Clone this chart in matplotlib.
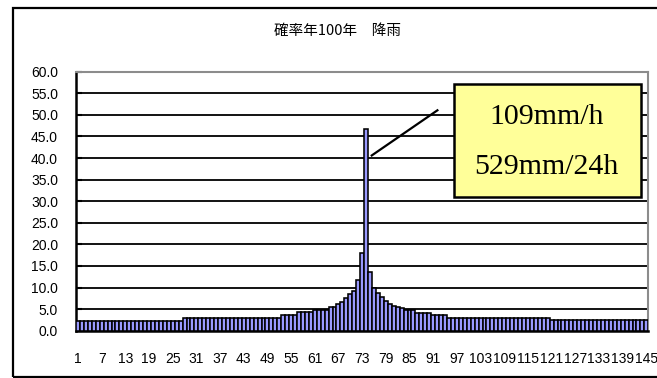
import matplotlib
matplotlib.use("Agg")
import matplotlib.pyplot as plt
from matplotlib.patches import Rectangle

# 10-minute rainfall (mm) for the 100-year design storm, 145 steps
periods = list(range(1, 146))
rain = (
    [2.3] * 27                      # 1-27
    + [3.0] * 25                    # 28-52
    + [3.7] * 4                     # 53-56
    + [4.3] * 4                     # 57-60
    + [4.9] * 4                     # 61-64
    + [5.5, 5.6, 6.1, 6.7, 7.6, 8.5, 9.3, 11.7, 17.9]   # 65-73
    + [46.7]                        # 74 (peak)
    + [13.7, 10.0, 8.8, 7.8, 6.8, 6.2, 5.8, 5.5, 5.2]   # 75-83
    + [4.8] * 3                     # 84-86
    + [4.2] * 4                     # 87-90
    + [3.6] * 4                     # 91-94
    + [3.0] * 26                    # 95-120
    + [2.4] * 25                    # 121-145
)
tick_positions = list(range(1, 146, 6))
tick_labels = [str(p) for p in tick_positions]
y_ticks = [i * 5 for i in range(13)]
y_labels = [f"{v:.1f}" for v in y_ticks]
title = "確率年100年　降雨"
note_lines = ["109mm/h", "529mm/24h"]

W, H = 657, 378
fig = plt.figure(figsize=(W / 100, H / 100), dpi=100)
fig.patch.set_facecolor("white")

# outer chart frame
fig.add_artist(Rectangle((13 / W, 1 - 377 / H), (W + 5 - 13) / W, (377 - 8) / H,
                         transform=fig.transFigure, fill=False,
                         edgecolor="black", linewidth=1.6, clip_on=False))

left, right, top, bottom = 76, 648.3, 71.7, 330.7
ax = fig.add_axes([left / W, 1 - bottom / H, (right - left) / W, (bottom - top) / H])

ax.bar(periods, rain, width=1.0, color="#9999FF", edgecolor="black",
       linewidth=1.15, zorder=3)

ax.set_xlim(0.5, 145.5)
ax.set_ylim(0, 60)
ax.set_yticks(y_ticks)
ax.set_yticklabels(y_labels, fontsize=10, family="Liberation Sans")
ax.set_xticks(tick_positions)
ax.set_xticklabels(tick_labels, fontsize=10, family="Liberation Sans")
ax.tick_params(axis="x", length=0, pad=15)
ax.tick_params(axis="y", direction="in", length=4, width=1.5, pad=13)

ax.grid(axis="y", color="black", linewidth=1.3, zorder=1)
ax.set_axisbelow(True)
for side in ("top", "right"):
    ax.spines[side].set_color("#8c8c8c")
    ax.spines[side].set_linewidth(1.5)
for side in ("left", "bottom"):
    ax.spines[side].set_color("black")
    ax.spines[side].set_linewidth(1.8)

# leader line from the peak to the note box
ax.plot([75.2, 92.3], [40.45, 51.2], color="black", linewidth=1.6,
        solid_capstyle="butt", zorder=5)

# note box
ax.add_patch(Rectangle((0.661, 0.517), 0.987 - 0.661, 0.951 - 0.517,
                       transform=ax.transAxes, facecolor="#FFFF99",
                       edgecolor="black", linewidth=1.8, zorder=6))
ax.text(0.822, 0.826, note_lines[0], transform=ax.transAxes, ha="center",
        va="center", fontsize=21.5, family="Liberation Serif", zorder=7)
ax.text(0.822, 0.633, note_lines[1], transform=ax.transAxes, ha="center",
        va="center", fontsize=21.5, family="Liberation Serif", zorder=7)

fig.text(338 / W, 1 - 31.5 / H, title, ha="center", va="center",
         fontsize=10.5, family=["Noto Sans CJK JP", "DejaVu Sans"])

fig.savefig("out.png", dpi=100)
